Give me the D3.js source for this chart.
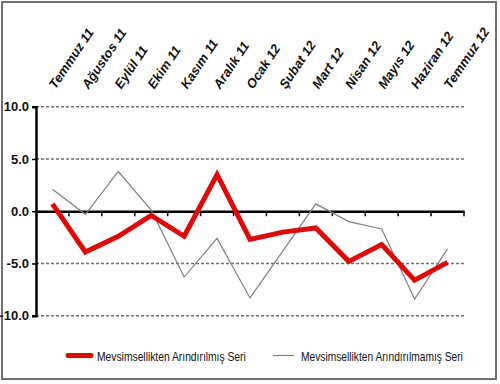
<!DOCTYPE html>
<html><head><meta charset="utf-8">
<script src="https://cdn.jsdelivr.net/npm/d3@7/dist/d3.min.js"></script>
<style>
html,body{margin:0;padding:0;background:#fff;}
svg{display:block;}
text{font-family:"Liberation Sans Narrow","Arial Narrow","Liberation Sans",Arial,sans-serif;}
</style></head>
<body><svg id="c" width="500" height="384"></svg>
<script>
const categories = ["Temmuz 11","Ağustos 11","Eylül 11","Ekim 11","Kasım 11","Aralık 11","Ocak 12","Şubat 12","Mart 12","Nisan 12","Mayıs 12","Haziran 12","Temmuz 12"];
const adjusted = [0.7,-3.9,-2.4,-0.4,-2.4,3.5,-2.7,-2.0,-1.6,-4.8,-3.2,-6.6,-4.9];
const unadjusted = [2.1,-0.3,3.8,0.1,-6.3,-2.6,-8.3,-3.8,0.7,-1.0,-1.7,-8.4,-3.6];
const yTicks = [10,5,0,-5,-10];
const seriesNames = ["Mevsimsellikten Arındırılmış Seri","Mevsimsellikten Arındırılmamış Seri"];

const svg = d3.select("#c");
const L = 36, R = 464, T = 106.7, B = 315.7;

svg.append("rect").attr("x",2).attr("y",2).attr("width",494).attr("height",377)
  .attr("fill","#fff").attr("stroke","#707070").attr("stroke-width",2);

const x = d3.scaleBand().domain(categories).range([L,R]).padding(0);
const y = d3.scaleLinear().domain([-10,10]).range([B,T]);
const cx = d => x(d) + x.bandwidth()/2;

svg.append("g").selectAll("line").data(yTicks.filter(v=>v!==0)).join("line")
  .attr("x1",L).attr("x2",R).attr("y1",d=>y(d)).attr("y2",d=>y(d))
  .attr("stroke","#707070").attr("stroke-width",1.5).attr("stroke-dasharray","3,2");

const yAxis = d3.axisLeft(y).tickValues(yTicks).tickFormat(d3.format(".1f")).tickSize(4).tickPadding(3);
const gy = svg.append("g").attr("transform",`translate(${L},0)`).call(yAxis);
gy.select(".domain").attr("stroke","#000").attr("stroke-width",2.5);
gy.selectAll(".tick line").attr("stroke","#000").attr("stroke-width",1.5);
gy.selectAll(".tick text").attr("font-size",13).attr("font-weight","bold").attr("fill","#111")
  .text(d => d3.format(".1f")(d).replace("−","-"));

const xAxis = d3.axisBottom(x).tickSize(0).tickFormat("");
const gx = svg.append("g").attr("transform",`translate(0,${y(0)})`).call(xAxis);
gx.select(".domain").attr("stroke","#000").attr("stroke-width",2.5);
svg.append("g").selectAll("line").data(categories).join("line")
  .attr("x1",d=>x(d)+x.bandwidth()).attr("x2",d=>x(d)+x.bandwidth())
  .attr("y1",y(0)).attr("y2",y(0)+5).attr("stroke","#000").attr("stroke-width",1.5);

svg.append("g").selectAll("text").data(categories).join("text")
  .attr("transform",d=>`translate(${cx(d)+3},${T-17}) rotate(-56)`)
  .attr("text-anchor","start").attr("font-size",13).attr("font-weight","bold")
  .attr("font-style","italic").attr("fill","#111").text(d=>d);

const line = d3.line().x((d,i)=>cx(categories[i])).y(d=>y(d));
svg.append("path").datum(unadjusted).attr("d",line).attr("fill","none")
  .attr("stroke","#808080").attr("stroke-width",1.2);
svg.append("path").datum(adjusted).attr("d",line).attr("fill","none")
  .attr("stroke","#dd0a0a").attr("stroke-width",5).attr("stroke-linejoin","miter");

const leg = svg.append("g");
leg.append("line").attr("x1",68).attr("x2",91).attr("y1",355.5).attr("y2",355.5)
  .attr("stroke","#dd0a0a").attr("stroke-width",5).attr("stroke-linecap","round");
leg.append("line").attr("x1",273).attr("x2",294).attr("y1",355.5).attr("y2",355.5)
  .attr("stroke","#808080").attr("stroke-width",1.2);
function legText(x0, label, target){
  const t = leg.append("text").attr("x",0).attr("y",0).attr("font-size",13).attr("fill","#111").text(label);
  const w = t.node().getComputedTextLength();
  const s = Math.min(1, target / w);
  t.attr("transform",`translate(${x0},360.5) scale(${s},1)`);
}
legText(97, seriesNames[0], 149);
legText(301, seriesNames[1], 162);
</script></body></html>
